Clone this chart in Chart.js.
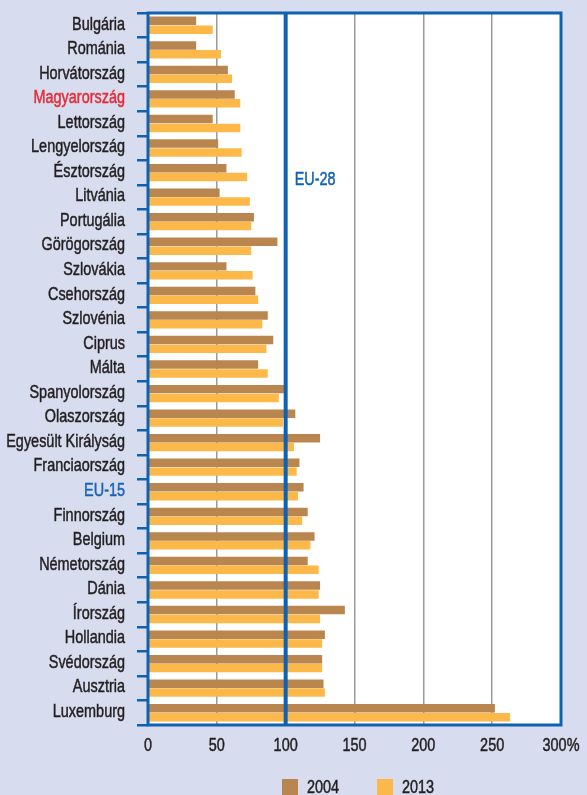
<!DOCTYPE html>
<html lang="hu">
<head>
<meta charset="utf-8">
<title>Egy főre jutó GDP, 2004 és 2013</title>
<script src="https://cdn.jsdelivr.net/npm/chart.js@4.4.1/dist/chart.umd.min.js"></script>
<style>
  html, body { margin: 0; padding: 0; background: #d7ddef; overflow: hidden; }
  #wrap { position: relative; width: 587px; height: 795px; }
</style>
</head>
<body>
<div id="wrap"><canvas id="chart"></canvas></div>
<script>
const countries = ['Bulgária', 'Románia', 'Horvátország', 'Magyarország', 'Lettország', 'Lengyelország',
    'Észtország', 'Litvánia', 'Portugália', 'Görögország', 'Szlovákia', 'Csehország', 'Szlovénia',
    'Ciprus', 'Málta', 'Spanyolország', 'Olaszország', 'Egyesült Királyság', 'Franciaország', 'EU-15',
    'Finnország', 'Belgium', 'Németország', 'Dánia', 'Írország', 'Hollandia', 'Svédország', 'Ausztria',
    'Luxemburg'];

const values2004 = [35, 35, 58, 63, 47, 51, 57, 52, 77, 94, 57, 78, 87, 91, 80, 99, 107, 125, 110, 113,
    116, 121, 116, 125, 143, 128.5, 126.5, 127.5, 252];
const values2013 = [47, 53, 61, 67, 67, 68, 72, 74, 75, 75, 76, 80, 83, 86, 87, 95, 98, 106, 108, 109,
    112, 118, 124, 124, 125, 126.5, 126.5, 128.5, 263];

const xTicks = [0, 50, 100, 150, 200, 250, 300];
const euAverage = 100;

const BLUE = '#0f62b2';
const BROWN = '#b98650';
const ORANGE = '#fcb849';
const TEXT = '#231f20';

// condensed look: Liberation Sans squeezed horizontally, with a hairline stroke for weight
const FONT = "19px 'Liberation Sans', Arial, sans-serif";
const SQUEEZE = 0.76;

function narrowText(ctx, text, x, y, align, color) {
    ctx.save();
    ctx.translate(x, y);
    ctx.scale(SQUEEZE, 1);
    ctx.font = FONT;
    ctx.fillStyle = color;
    ctx.strokeStyle = color;
    ctx.lineWidth = 0.5;
    ctx.textAlign = align;
    ctx.textBaseline = 'middle';
    ctx.fillText(text, 0, 0);
    ctx.strokeText(text, 0, 0);
    ctx.restore();
}

function labelColor(name) {
    if (name === 'Magyarország') return '#e42a35';
    if (name === 'EU-15') return '#1a64b4';
    return TEXT;
}

// white plot area, blue frame, EU-28 line, axis labels and legend
const frame = {
    id: 'frame',
    beforeDraw(c) {
        const a = c.chartArea;
        c.ctx.save();
        c.ctx.fillStyle = '#fff';
        c.ctx.fillRect(a.left, a.top, a.right - a.left, a.bottom - a.top);
        c.ctx.restore();
    },
    afterDatasetsDraw(c) {
        const a = c.chartArea, ctx = c.ctx;
        const xs = c.scales.x, ys = c.scales.y;
        const x = xs.getPixelForValue(euAverage);
        ctx.save();
        ctx.strokeStyle = BLUE;
        ctx.lineWidth = 4;
        ctx.beginPath();
        ctx.moveTo(x, a.top);
        ctx.lineTo(x, a.bottom);
        ctx.stroke();
        ctx.lineWidth = 3;
        ctx.strokeRect(a.left, a.top, a.right - a.left, a.bottom - a.top);
        ctx.restore();

        narrowText(ctx, 'EU-28', x + 9, a.top + 167, 'left', BLUE);

        countries.forEach((name, i) => {
            narrowText(ctx, name, a.left - 23, ys.getPixelForTick(i) - 1, 'right', labelColor(name));
        });

        xTicks.forEach(v => {
            narrowText(ctx, v === 300 ? '300%' : String(v), xs.getPixelForValue(v), a.bottom + 21, 'center', TEXT);
        });

        // legend
        const legendLeft = [a.left + 134, a.left + 229];
        c.data.datasets.forEach((ds, i) => {
            ctx.save();
            ctx.fillStyle = ds.backgroundColor;
            ctx.fillRect(legendLeft[i], a.bottom + 54, 16, 18);
            ctx.restore();
            narrowText(ctx, ds.label, legendLeft[i] + 25, a.bottom + 63, 'left', TEXT);
        });
    }
};

new Chart(document.querySelector('#chart'), {
    type: 'bar',
    data: {
        labels: countries,
        datasets: [
            {
                label: '2004',
                data: values2004,
                backgroundColor: BROWN,
                barPercentage: 0.96,
                categoryPercentage: 0.72
            },
            {
                label: '2013',
                data: values2013,
                backgroundColor: ORANGE,
                barPercentage: 0.96,
                categoryPercentage: 0.72
            }
        ]
    },
    options: {
        indexAxis: 'y',
        responsive: true,
        maintainAspectRatio: false,
        animation: false,
        layout: { padding: { top: 13, right: 26, left: 0, bottom: 70 } },
        scales: {
            x: {
                min: 0,
                max: 300,
                afterBuildTicks: s => { s.ticks = xTicks.map(v => ({ value: v })); },
                afterFit: s => { s.height = 0; },
                border: { display: false },
                grid: {
                    drawTicks: false,
                    lineWidth: 1.5,
                    color: ctx => (ctx.tick && (ctx.tick.value === 0 || ctx.tick.value === 300)) ? BLUE : '#9a9a9a'
                },
                ticks: { display: false }
            },
            y: {
                afterFit: s => { s.width = 148; },
                border: { display: false },
                grid: {
                    offset: true,
                    drawOnChartArea: false,
                    drawTicks: true,
                    tickLength: 11,
                    lineWidth: 2.5,
                    color: BLUE
                },
                ticks: { display: false, autoSkip: false }
            }
        },
        plugins: {
            legend: { display: false },
            tooltip: { enabled: false }
        }
    },
    plugins: [frame]
});
</script>
</body>
</html>
